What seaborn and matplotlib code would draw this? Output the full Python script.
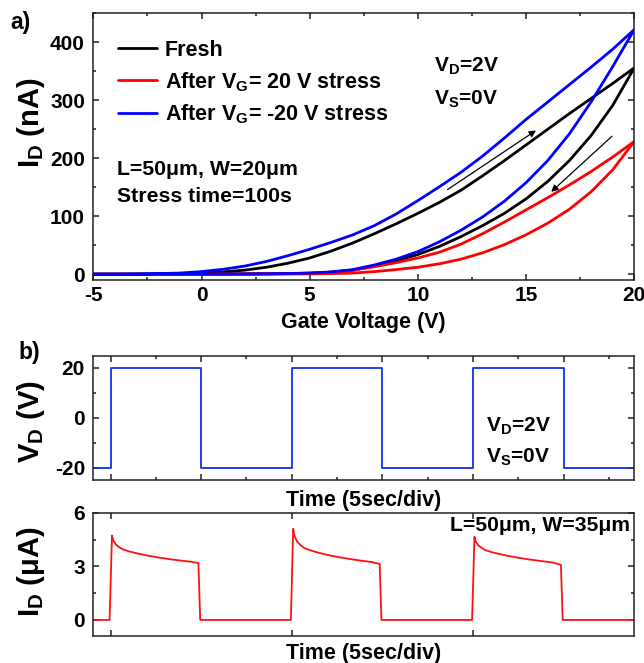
import matplotlib
matplotlib.use("Agg")
import matplotlib.pyplot as plt
import numpy as np
import pandas as pd
import seaborn as sns

# ---------------- transfer curves (panel a) ----------------
vg = list(range(-5, 21))  # gate voltage grid, V

# drain current in nA: forward sweep (-5 -> 20 V) and reverse sweep (20 -> -5 V)
fresh_fwd = [0, 0, 0, 0.3, 0.8, 1.8, 4, 7, 12, 19, 28, 40, 54, 70, 87, 105,
             124, 145, 170, 196, 223, 250, 277, 303, 329, 356]
fresh_rev = [0, 0, 0, 0, 0, 0.1, 0.2, 0.4, 0.6, 1.0, 1.8, 3.5, 7, 14, 23, 34,
             48, 65, 84, 105, 130, 160, 196, 239, 291, 356]
pos_fwd = [0, 0, 0, 0, 0, 0.1, 0.2, 0.4, 0.7, 1.0, 1.6, 3.5, 7, 13, 20, 28,
           38, 52, 70, 90, 111, 132, 154, 177, 202, 229]
pos_rev = [0, 0, 0, 0, 0, 0, 0, 0.1, 0.2, 0.3, 0.5, 1, 2, 4.5, 8, 12,
           18, 26, 37, 51, 68, 88, 112, 142, 180, 229]
neg_fwd = [0, 0, 0.3, 1, 2, 4.5, 8.5, 14, 22, 32, 43, 55, 68, 84, 104, 127,
           151, 176, 204, 235, 267, 297, 327, 357, 388, 422]
neg_rev = [0, 0, 0, 0, 0, 0.2, 0.3, 0.5, 0.8, 1.2, 2, 4, 8, 16, 26, 39,
           56, 76, 99, 126, 158, 196, 242, 297, 358, 422]

series_labels = ["Fresh",
                 "After V$_{G}$= 20 V stress",
                 "After V$_{G}$= -20 V stress"]
series_colors = ["#000000", "#ff0000", "#0000ff"]
series_fwd = [fresh_fwd, pos_fwd, neg_fwd]
series_rev = [fresh_rev, pos_rev, neg_rev]

# ---------------- pulse measurement (panel b) ----------------
pulse_starts = [0, 10, 20]          # s
pulse_width = 5                     # s
v_high, v_low = 20, -20             # V
t_start, t_end = -0.95, 28.9        # s, recorded window

# drain current during each pulse (uA) vs. time after the pulse edge (s)
id_offsets = [-0.05, 0.08, 0.15, 0.3, 0.5, 0.7, 1.0, 1.4, 2.0, 2.6, 3.2,
              3.8, 4.4, 4.85, 4.95]
id_pulse1 = [0, 4.72, 4.45, 4.22, 4.05, 3.94, 3.84, 3.74, 3.61, 3.50, 3.41,
             3.33, 3.26, 3.18, 0]
id_pulse2 = [0, 5.10, 4.70, 4.38, 4.17, 4.02, 3.90, 3.78, 3.63, 3.51, 3.41,
             3.32, 3.24, 3.13, 0]
id_pulse3 = [0, 4.65, 4.38, 4.17, 4.01, 3.90, 3.80, 3.70, 3.57, 3.46, 3.37,
             3.29, 3.21, 3.08, 0]
id_pulses = [id_pulse1, id_pulse2, id_pulse3]

# ---------------- style ----------------
sns.set_theme(style="ticks")
plt.rcParams.update({
    "font.family": ["Liberation Sans", "DejaVu Sans"],
    "font.weight": "bold",
    "axes.labelweight": "bold",
    "axes.unicode_minus": False,
    "mathtext.fontset": "custom",
    "mathtext.rm": "Liberation Sans:bold",
    "mathtext.bf": "Liberation Sans:bold",
    "mathtext.it": "Liberation Sans:bold",
    "mathtext.default": "bf",
    "axes.linewidth": 1.1,
    "axes.edgecolor": "#222222",
    "text.color": "black",
    "axes.labelcolor": "black",
    "xtick.color": "#222222",
    "ytick.color": "#222222",
    "xtick.labelcolor": "black",
    "ytick.labelcolor": "black",
})

W, H = 644, 663
fig = plt.figure(figsize=(W / 100, H / 100), dpi=100)


def rect(left, top, right, bottom):
    return [left / W, 1 - bottom / H, (right - left) / W, (bottom - top) / H]


def style_ticks(ax, xpad=4, ypad=6):
    ax.tick_params(which="both", direction="in", top=True, right=True,
                   width=1.1, labelsize=15)
    ax.tick_params(which="major", length=4.5)
    ax.tick_params(which="minor", length=2.5)
    ax.tick_params(axis="x", pad=xpad)
    ax.tick_params(axis="y", pad=ypad)


# ---------------- panel a ----------------
ax1 = fig.add_axes(rect(93.3, 13.3, 634.3, 280))
for lab, col, fw, rv in zip(series_labels, series_colors, series_fwd, series_rev):
    loop = pd.DataFrame({"Vg": vg + vg[::-1], "Id": fw + rv[::-1]})
    sns.lineplot(data=loop, x="Vg", y="Id", sort=False, estimator=None,
                 color=col, lw=2.0, label=lab, ax=ax1)

ax1.set_xticks(range(-5, 21, 5))
ax1.set_xticks(np.arange(-5, 20.1, 2.5), minor=True)
ax1.set_yticks(range(0, 401, 100))
ax1.set_yticks(range(0, 451, 50), minor=True)
ax1.set_xlim(-5, 20)
ax1.set_ylim(-10, 450)
style_ticks(ax1)
ax1.set_xlabel("Gate Voltage (V)", fontsize=15.5)
ax1.set_ylabel("I$_{D}$ (nA)", fontsize=21)
ax1.xaxis.set_label_coords(0.5, -0.119)
ax1.yaxis.set_label_coords(-0.085, 0.59)

ax1.legend(loc="upper left", bbox_to_anchor=(0.045, 0.9), frameon=False,
           fontsize=15.5, handlelength=1.85, handletextpad=0.35,
           labelspacing=0.42, borderpad=0, borderaxespad=0)

ax1.text(0.63, 0.781, "V$_{D}$=2V", transform=ax1.transAxes, fontsize=15,
         ha="left", va="baseline")
ax1.text(0.63, 0.659, "V$_{S}$=0V", transform=ax1.transAxes, fontsize=15,
         ha="left", va="baseline")
ax1.text(0.044, 0.394, "L=50\u03bcm, W=20\u03bcm", transform=ax1.transAxes,
         fontsize=15.3, ha="left", va="baseline")
ax1.text(0.044, 0.294, "Stress time=100s", transform=ax1.transAxes,
         fontsize=15.3, ha="left", va="baseline")

# sweep direction arrows
arrow = dict(arrowstyle="-|>", lw=0.9, color="black", mutation_scale=10,
             shrinkA=0, shrinkB=0)
ax1.annotate("", xy=(15.46, 248), xytext=(11.37, 146), arrowprops=arrow)
ax1.annotate("", xy=(16.16, 142), xytext=(18.97, 238), arrowprops=arrow)

fig.text(10 / W, 1 - 22 / H, "a)", fontsize=16.5, ha="left", va="center")
fig.text(18.5 / W, 1 - 353 / H, "b)", fontsize=16.5, ha="left", va="center")

# ---------------- panel b: applied voltage ----------------
t_v, v_v = [t_start], [v_low]
for s in pulse_starts:
    t_v += [s, s, s + pulse_width, s + pulse_width]
    v_v += [v_low, v_high, v_high, v_low]
t_v.append(t_end)
v_v.append(v_low)
wave = pd.DataFrame({"t": t_v, "V": v_v})

ax2 = fig.add_axes(rect(93.3, 355.5, 634.3, 480))
sns.lineplot(data=wave, x="t", y="V", sort=False, estimator=None,
             color="#1030e8", lw=1.3, ax=ax2)
ax2.set_xticks(np.arange(0, t_end, 5))
ax2.set_xticks(np.arange(2.5, t_end, 2.5), minor=True)
ax2.set_yticks([-20, 0, 20])
ax2.set_yticks([-20, -10, 0, 10, 20], minor=True)
ax2.set_xlim(t_start, t_end)
ax2.set_ylim(-25, 25)
style_ticks(ax2)
ax2.tick_params(axis="x", labelbottom=False)
ax2.set_xlabel("Time (5sec/div)", fontsize=15.5)
ax2.set_ylabel("V$_{D}$ (V)", fontsize=21)
ax2.xaxis.set_label_coords(0.5, -0.081)
ax2.yaxis.set_label_coords(-0.085, 0.47)
ax2.text(0.726, 0.39, "V$_{D}$=2V", transform=ax2.transAxes, fontsize=15,
         ha="left", va="baseline")
ax2.text(0.726, 0.14, "V$_{S}$=0V", transform=ax2.transAxes, fontsize=15,
         ha="left", va="baseline")

# ---------------- panel b: drain current ----------------
t_i, i_i = [t_start], [0.0]
for s, cur in zip(pulse_starts, id_pulses):
    t_i += [s + o for o in id_offsets]
    i_i += cur
t_i.append(t_end)
i_i.append(0.0)
resp = pd.DataFrame({"t": t_i, "I": i_i})

ax3 = fig.add_axes(rect(93.3, 512.7, 634.3, 636))
sns.lineplot(data=resp, x="t", y="I", sort=False, estimator=None,
             color="#ff1010", lw=1.3, ax=ax3)
ax3.set_xticks(pulse_starts)
ax3.set_yticks([0, 3, 6])
ax3.set_yticks([0, 1.5, 3, 4.5, 6], minor=True)
ax3.set_xlim(t_start, t_end)
ax3.set_ylim(-0.9, 6)
style_ticks(ax3)
ax3.tick_params(axis="x", labelbottom=False)
ax3.set_xlabel("Time (5sec/div)", fontsize=15.5)
ax3.set_ylabel("I$_{D}$ (\u03bcA)", fontsize=21)
ax3.xaxis.set_label_coords(0.5, -0.059)
ax3.yaxis.set_label_coords(-0.085, 0.52)
ax3.text(0.992, 0.854, "L=50\u03bcm, W=35\u03bcm", transform=ax3.transAxes,
         fontsize=15.2, ha="right", va="baseline")

fig.savefig("out.png", dpi=100)
